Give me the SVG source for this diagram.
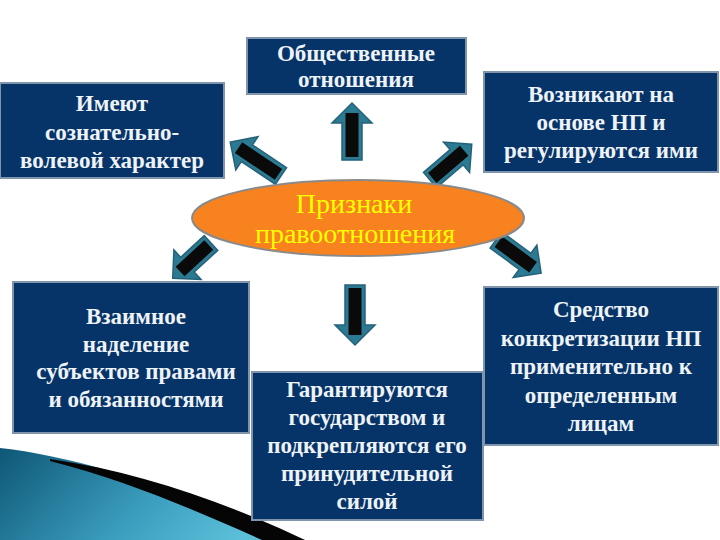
<svg xmlns="http://www.w3.org/2000/svg" width="720" height="540" viewBox="0 0 720 540" font-family="Liberation Serif, DejaVu Serif, serif">
<defs>
<linearGradient id="swoosh" x1="0" y1="0" x2="1" y2="0.3">
<stop offset="0" stop-color="#0e5676"/>
<stop offset="0.6" stop-color="#3b9dbd"/>
<stop offset="1" stop-color="#5cc0da"/>
</linearGradient>
<style>
.box{fill:#073468;stroke:#8094ab;stroke-width:2}
.t{font-weight:bold;font-size:23px;fill:#eef3f8;text-anchor:middle}
.et{font-size:28px;fill:#ffff00;text-anchor:middle}
.ah{fill:#2c7a92;stroke:#23627a;stroke-width:1.5;stroke-linejoin:miter}
.core{fill:#0a0a0a}
</style>
</defs>
<rect width="720" height="540" fill="#ffffff"/>
<g id="decor">
<path d="M0,448 C90,458 200,498 305,540 L0,540 Z" fill="url(#swoosh)"/>
<path d="M50,459 C140,472 225,502 305,540 L262,540 C195,510 125,480 50,461 Z" fill="#050505"/>
</g>
<g id="connectors">
<g transform="translate(352,160) rotate(-90)"><polygon class="ah" points="0,-10 37,-10 37,-20 57,0 37,20 37,10 0,10"/><rect class="core" x="3" y="-6.5" width="44" height="13"/></g>
<g transform="translate(355,285) rotate(90)"><polygon class="ah" points="0,-10 40,-10 40,-20 60,0 40,20 40,10 0,10"/><rect class="core" x="3" y="-6.5" width="47" height="13"/></g>
<g transform="translate(281,176) rotate(-146.3)"><polygon class="ah" points="0,-10 41,-10 41,-20 61,0 41,20 41,10 0,10"/><rect class="core" x="3" y="-6.5" width="48" height="13"/></g>
<g transform="translate(430,180) rotate(-40.6)"><polygon class="ah" points="0,-10 35,-10 35,-20 55,0 35,20 35,10 0,10"/><rect class="core" x="3" y="-6.5" width="42" height="13"/></g>
<g transform="translate(211,243) rotate(137.4)"><polygon class="ah" points="0,-10 32,-10 32,-20 52,0 32,20 32,10 0,10"/><rect class="core" x="3" y="-6.5" width="39" height="13"/></g>
<g transform="translate(496,240) rotate(36.3)"><polygon class="ah" points="0,-10 36,-10 36,-20 56,0 36,20 36,10 0,10"/><rect class="core" x="3" y="-6.5" width="43" height="13"/></g>
</g>
<g id="center">
<ellipse cx="358" cy="218" rx="166" ry="38" fill="#f7821f" stroke="#8a8a8a" stroke-width="2"/>
<text class="et" x="354" y="213">Признаки</text>
<text class="et" x="355" y="243">правоотношения</text>
</g>
<g id="n1">
<rect class="box" x="0" y="83" width="224" height="95"/>
<text class="t" x="112" y="111">Имеют</text>
<text class="t" x="112" y="140">сознательно-</text>
<text class="t" x="112" y="168">волевой характер</text>
</g>
<g id="n2">
<rect class="box" x="247" y="38" width="219" height="56"/>
<text class="t" x="356" y="61">Общественные</text>
<text class="t" x="356" y="87">отношения</text>
</g>
<g id="n3">
<rect class="box" x="484" y="72" width="234" height="100"/>
<text class="t" x="601" y="102">Возникают на</text>
<text class="t" x="601" y="130">основе НП и</text>
<text class="t" x="601" y="158">регулируются ими</text>
</g>
<g id="n4">
<rect class="box" x="13" y="282" width="236" height="151"/>
<text class="t" x="136" y="324">Взаимное</text>
<text class="t" x="136" y="352">наделение</text>
<text class="t" x="136" y="379">субъектов правами</text>
<text class="t" x="136" y="407">и обязанностями</text>
</g>
<g id="n5">
<rect class="box" x="252" y="372" width="231" height="148"/>
<text class="t" x="367" y="397">Гарантируются</text>
<text class="t" x="367" y="425">государством и</text>
<text class="t" x="367" y="453">подкрепляются его</text>
<text class="t" x="367" y="481">принудительной</text>
<text class="t" x="367" y="509">силой</text>
</g>
<g id="n6">
<rect class="box" x="484" y="287" width="234" height="158"/>
<text class="t" x="601" y="317">Средство</text>
<text class="t" x="601" y="346">конкретизации НП</text>
<text class="t" x="601" y="374">применительно к</text>
<text class="t" x="601" y="403">определенным</text>
<text class="t" x="601" y="431">лицам</text>
</g>
</svg>
